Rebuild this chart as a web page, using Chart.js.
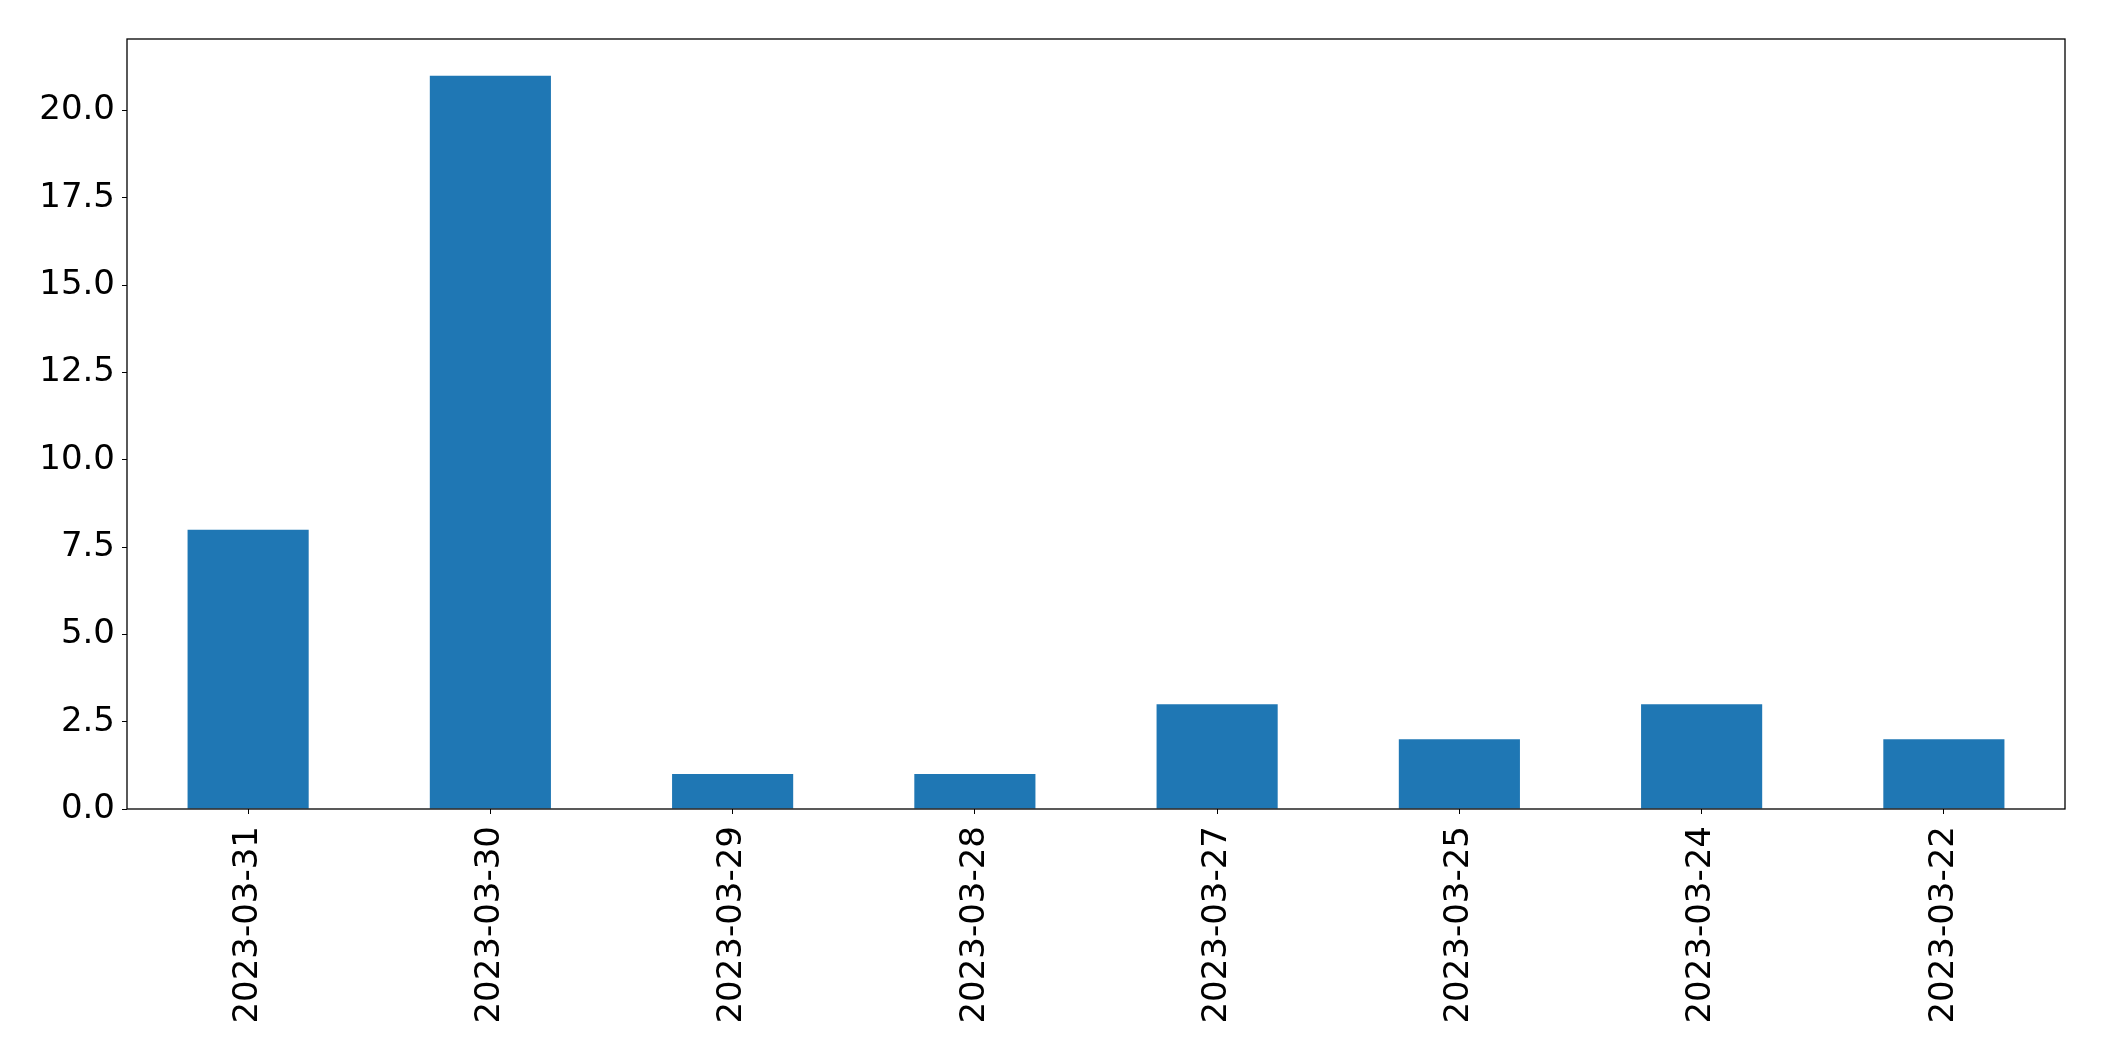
<!DOCTYPE html>
<html>
<head>
<meta charset="utf-8">
<script src="https://cdn.jsdelivr.net/npm/chart.js@4"></script>
<style>
  html, body { margin: 0; padding: 0; background: #fff; }
  #wrap { width: 2104px; height: 1061px; }
</style>
</head>
<body>
<div id="wrap"><canvas id="chart" width="2104" height="1061"></canvas></div>
<script>
const dates = ['2023-03-31', '2023-03-30', '2023-03-29', '2023-03-28', '2023-03-27', '2023-03-25', '2023-03-24', '2023-03-22']
const counts = [8, 21, 1, 1, 3, 2, 3, 2]
const yTicks = [0, 2.5, 5, 7.5, 10, 12.5, 15, 17.5, 20]

// box round the plot area, like matplotlib
const frame = {
    id: 'frame',
    afterDraw(chart) {
        const a = chart.chartArea
        const c = chart.ctx
        c.save()
        c.strokeStyle = '#000'
        c.lineWidth = 1.3
        c.strokeRect(a.left, a.top, a.right - a.left, a.bottom - a.top)
        c.restore()
    }
}

const font = { family: 'DejaVu Sans', size: 34 }

let ctx = document.getElementById('chart')

const chart = new Chart(ctx, {
    type: 'bar',
    data: {
        labels: dates,
        datasets: [{
            data: counts,
            backgroundColor: '#1f77b4',
            borderWidth: 0,
            barPercentage: 0.5,
            categoryPercentage: 1
        }]
    },
    options: {
        responsive: false,
        animation: false,
        layout: { padding: { left: 0, right: 39, top: 39, bottom: 0 } },
        plugins: {
            legend: { display: false },
            tooltip: { enabled: false }
        },
        scales: {
            x: {
                offset: true,
                grid: { offset: false, drawOnChartArea: false, tickLength: 5, tickColor: '#000', color: '#000' },
                border: { display: false },
                ticks: { color: '#000', font: font, minRotation: 90, maxRotation: 90, padding: 12 },
                afterFit: (s) => { s.height = 252 }
            },
            y: {
                min: 0,
                max: 22.05,
                grid: { drawOnChartArea: false, tickLength: 5, tickColor: '#000', color: '#000' },
                border: { display: false },
                afterBuildTicks: (s) => { s.ticks = yTicks.map(v => ({ value: v })) },
                ticks: { color: '#000', font: font, padding: 7, callback: (v) => Number(v).toFixed(1) },
                afterFit: (s) => { s.width = 127 }
            }
        }
    },
    plugins: [frame]
})
</script>
</body>
</html>
